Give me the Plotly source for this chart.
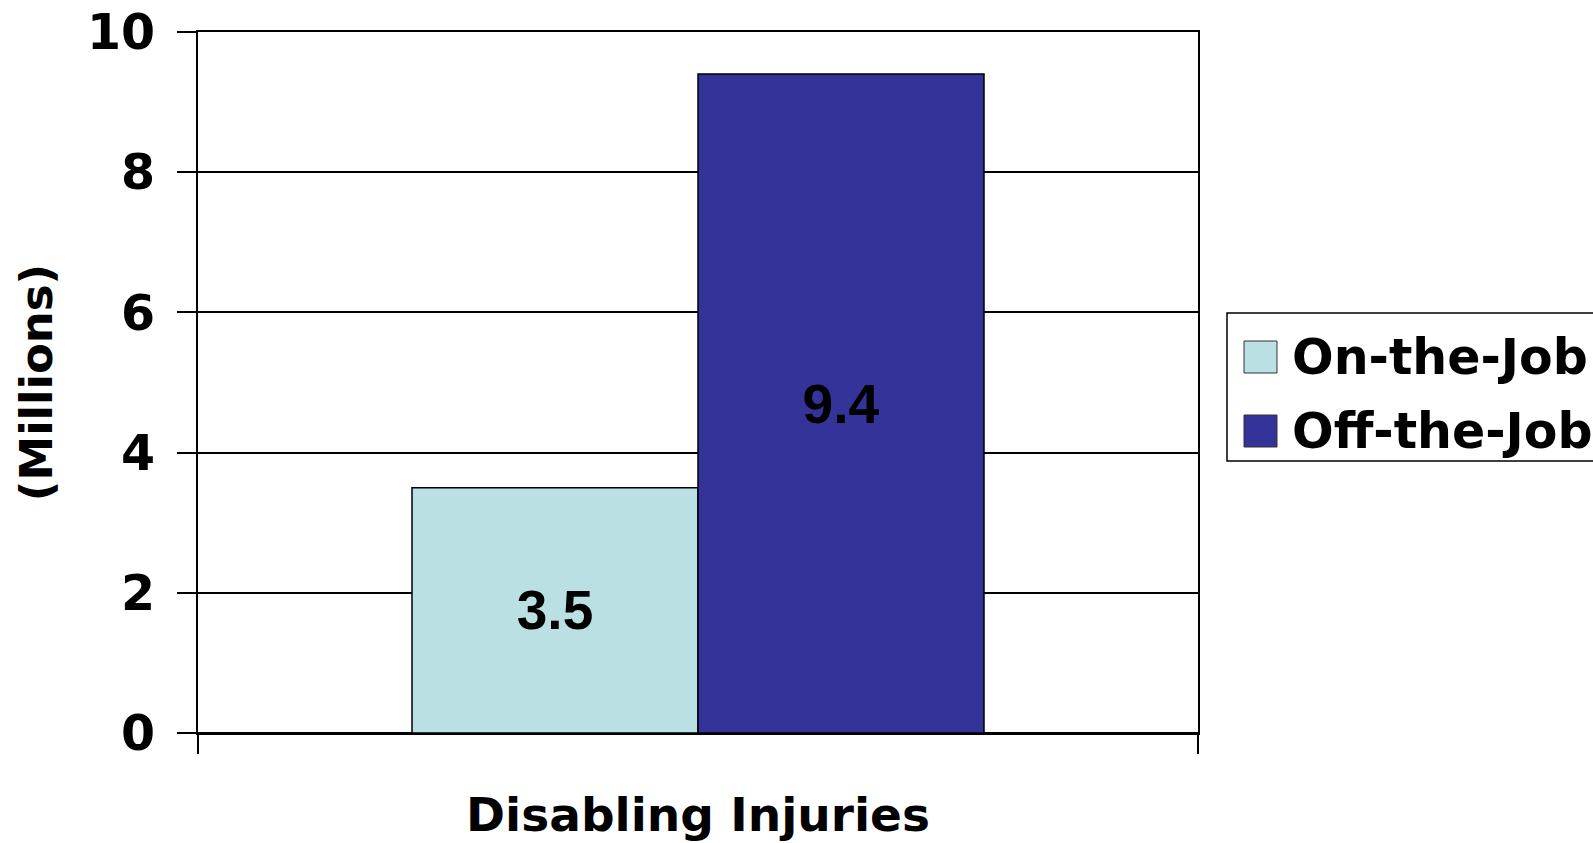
import plotly.graph_objects as go

categories = ["Disabling Injuries"]
series_names = ["On-the-Job", "Off-the-Job"]
on_the_job = [3.5]
off_the_job = [9.4]
y_ticks = [0, 2, 4, 6, 8, 10]
colors = ["#BAE0E3", "#333399"]

W, H = 1593, 843
L, R, T, B = 198, 395, 32, 110
PW, PH = W - L - R, H - T - B

def px_x(px):
    return (px - L) / PW

def px_y(py):
    return (H - B - py) / PH

fig = go.Figure()
for name, vals, col in zip(series_names, [on_the_job, off_the_job], colors):
    fig.add_trace(go.Bar(
        x=categories, y=vals, name=name,
        marker=dict(color=col, line=dict(color="black", width=1.5)),
        text=[f"{v:.1f}" for v in vals], textposition="inside",
        insidetextanchor="middle", textangle=0,
        textfont=dict(family="Liberation Sans", size=55, color="black", weight="bold"),
        showlegend=False,
    ))

fig.update_layout(
    width=W, height=H,
    margin=dict(l=L, r=R, t=T, b=B, autoexpand=False),
    paper_bgcolor="white", plot_bgcolor="white",
    barmode="group", bargap=0.428, bargroupgap=0,
    uniformtext=dict(mode=False),
)

fig.update_xaxes(
    range=[-0.5, 0.5], showticklabels=False,
    ticks="outside", tickson="boundaries", ticklen=19, tickwidth=2, tickcolor="black",
    showline=True, linecolor="black", linewidth=2, mirror=True,
    showgrid=False,
    title=dict(text="Disabling Injuries", standoff=64,
               font=dict(family="DejaVu Sans", size=47, color="black", weight="bold")),
)
fig.update_yaxes(
    range=[0, 10], tickvals=y_ticks, ticktext=[str(t) for t in y_ticks],
    ticks="outside", ticklen=19, tickwidth=1.5, tickcolor="black",
    showline=True, linecolor="black", linewidth=2, mirror=True,
    showgrid=True, gridcolor="black", gridwidth=1.5,
    zeroline=True, zerolinecolor="black", zerolinewidth=2,
    ticklabelstandoff=12,
    tickfont=dict(family="DejaVu Sans", size=49, color="black", weight="bold"),
    title=dict(text="(Millions)", standoff=20,
               font=dict(family="DejaVu Sans", size=45, color="black", weight="bold")),
)

# legend box drawn to match the large swatches of the original
fig.add_shape(type="rect", xref="paper", yref="paper",
              x0=px_x(1227), x1=px_x(1640), y0=px_y(461), y1=px_y(313),
              line=dict(color="black", width=1.5), fillcolor="white", layer="above")
swatch_centers = [357, 431]
for name, col, cy in zip(series_names, colors, swatch_centers):
    fig.add_shape(type="rect", xref="paper", yref="paper",
                  x0=px_x(1244), x1=px_x(1277), y0=px_y(cy + 16), y1=px_y(cy - 16),
                  line=dict(color="#333333", width=1), fillcolor=col, layer="above")
    fig.add_annotation(xref="paper", yref="paper", x=px_x(1290), y=px_y(cy),
                       xanchor="left", yanchor="middle", showarrow=False, text=name,
                       font=dict(family="DejaVu Sans", size=49, color="black", weight="bold"))

fig.write_html("out.html")
